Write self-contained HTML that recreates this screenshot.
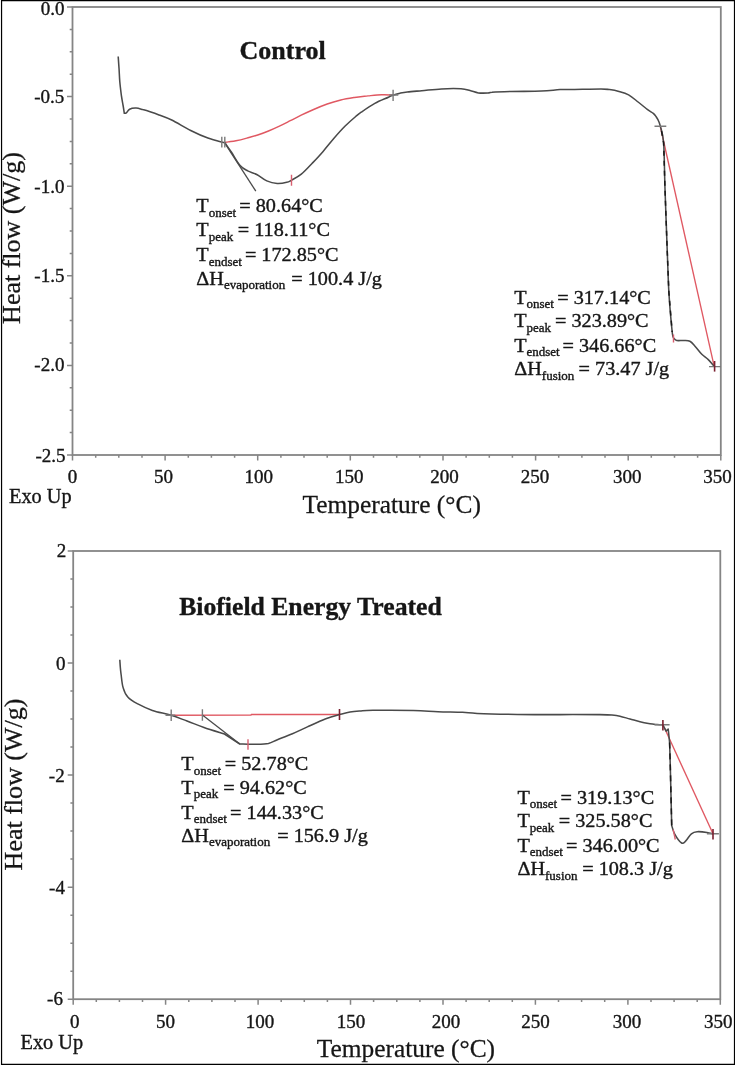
<!DOCTYPE html>
<html><head><meta charset="utf-8"><style>
html,body{margin:0;padding:0;background:#fff;}
body{width:735px;height:1066px;overflow:hidden;}
svg{display:block;will-change:transform;}
text{font-family:"Liberation Serif", "Times New Roman", serif;fill:#161616;stroke:#161616;stroke-width:0.36px;}
.tk{font-size:19px;}
.an{font-size:19.0px;}
.sb{font-size:12.2px;}
.lb{font-size:25.4px;stroke-width:0.28px;}
.yl{font-size:26px;stroke-width:0.28px;}
.ti{font-size:26px;font-weight:bold;}
.ti2{font-size:25.7px;font-weight:bold;}
.ex{font-size:20.3px;}
</style></head><body>
<svg width="735" height="1066" viewBox="0 0 735 1066">
<rect x="0" y="0" width="735" height="1066" fill="#fff"/>
<rect x="72.5" y="7" width="648.3" height="448" fill="none" stroke="#858585" stroke-width="1.8"/>
<path d="M67.0 7.0H72.5 M69.7 29.4H72.5 M69.7 51.8H72.5 M69.7 74.2H72.5 M67.0 96.6H72.5 M69.7 119.0H72.5 M69.7 141.4H72.5 M69.7 163.8H72.5 M67.0 186.2H72.5 M69.7 208.6H72.5 M69.7 231.0H72.5 M69.7 253.4H72.5 M67.0 275.8H72.5 M69.7 298.2H72.5 M69.7 320.6H72.5 M69.7 343.0H72.5 M67.0 365.4H72.5 M69.7 387.8H72.5 M69.7 410.2H72.5 M69.7 432.6H72.5 M67.0 455.0H72.5 M72.5 455V460.5 M95.7 455V457.8 M118.8 455V457.8 M142.0 455V457.8 M165.1 455V460.5 M188.3 455V457.8 M211.4 455V457.8 M234.6 455V457.8 M257.7 455V460.5 M280.9 455V457.8 M304.0 455V457.8 M327.2 455V457.8 M350.3 455V460.5 M373.5 455V457.8 M396.7 455V457.8 M419.8 455V457.8 M443.0 455V460.5 M466.1 455V457.8 M489.3 455V457.8 M512.4 455V457.8 M535.6 455V460.5 M558.7 455V457.8 M581.9 455V457.8 M605.0 455V457.8 M628.2 455V460.5 M651.3 455V457.8 M674.5 455V457.8 M697.6 455V457.8 M720.8 455V460.5" stroke="#858585" stroke-width="1.5" fill="none"/>
<text x="64.4" y="15.1" text-anchor="end" class="tk">0.0</text>
<text x="64.3" y="103.3" text-anchor="end" class="tk">-0.5</text>
<text x="64.4" y="193.4" text-anchor="end" class="tk">-1.0</text>
<text x="64.4" y="282.4" text-anchor="end" class="tk">-1.5</text>
<text x="64.4" y="371.2" text-anchor="end" class="tk">-2.0</text>
<text x="65.5" y="462.4" text-anchor="end" class="tk">-2.5</text>
<text x="72.5" y="482.6" text-anchor="middle" class="tk">0</text>
<text x="163.6" y="482.6" text-anchor="middle" class="tk">50</text>
<text x="258.7" y="482.6" text-anchor="middle" class="tk">100</text>
<text x="349.3" y="482.6" text-anchor="middle" class="tk">150</text>
<text x="444.5" y="482.6" text-anchor="middle" class="tk">200</text>
<text x="535.1" y="482.6" text-anchor="middle" class="tk">250</text>
<text x="627.2" y="482.6" text-anchor="middle" class="tk">300</text>
<text x="717.5" y="482.6" text-anchor="middle" class="tk">350</text>
<text x="9" y="503" class="ex">Exo Up</text>
<text x="302.6" y="513" class="lb">Temperature (°C)</text>
<text transform="translate(20 323.9) rotate(-90)" class="yl">Heat flow (W/g)</text>
<text x="239.6" y="59.3" class="ti">Control</text>
<path d="M224.9 142.4 C225.5 142.3 226.5 142.2 228.3 141.9 C230.1 141.6 232.8 141.4 235.9 140.8 C239.0 140.2 243.2 139.1 246.8 138.1 C250.4 137.1 254.1 136.2 257.7 135.0 C261.3 133.8 264.9 132.5 268.5 131.0 C272.1 129.5 275.8 127.8 279.4 126.1 C283.0 124.4 286.7 122.5 290.3 120.7 C293.9 118.9 297.3 117.1 301.2 115.2 C305.1 113.3 309.3 111.4 313.6 109.5 C317.9 107.6 322.7 105.6 327.2 104.0 C331.7 102.4 336.3 101.1 340.8 100.0 C345.3 98.9 349.9 98.2 354.4 97.5 C358.9 96.8 363.5 96.4 368.0 95.9 C372.5 95.5 377.5 95.0 381.6 94.8 C385.8 94.6 391.0 95.0 392.9 95.0" stroke="#e05862" stroke-width="1.45" fill="none"/>
<path d="M660.4 127 L714.2 366.3" stroke="#e05862" stroke-width="1.35" fill="none"/>
<path d="M118.2 56.5 C118.3 58.4 118.7 63.8 119.0 68.0 C119.3 72.2 119.4 77.2 119.8 81.8 C120.2 86.4 120.9 91.8 121.4 95.7 C122.0 99.7 122.6 102.6 123.1 105.5 C123.6 108.4 124.1 112.0 124.3 113.3 C124.6 113.2 125.4 113.6 126.3 112.9 C127.2 112.2 128.0 110.0 129.6 109.2 C131.2 108.4 133.9 108.0 136.1 108.1 C138.3 108.2 140.2 108.9 142.7 109.6 C145.1 110.2 148.1 111.1 150.8 112.0 C153.5 112.9 155.5 113.6 159.0 114.9 C162.5 116.2 166.4 117.4 171.7 120.0 C177.0 122.6 184.7 127.5 190.7 130.5 C196.7 133.5 202.2 136.0 207.9 138.1 C213.6 140.2 222.1 142.0 224.9 142.8 C226.0 144.4 229.0 148.5 231.5 152.3 C234.0 156.1 237.4 162.5 240.1 165.6 C242.8 168.7 244.8 169.4 247.7 170.9 C250.5 172.4 254.0 173.0 257.2 174.7 C260.4 176.4 263.5 179.4 266.8 180.9 C270.1 182.4 273.9 183.3 277.2 183.5 C280.5 183.7 284.4 182.9 286.8 182.3 C289.2 181.8 289.1 181.5 291.5 180.2 C293.9 178.8 297.9 177.0 301.3 174.2 C304.8 171.4 308.6 167.1 312.2 163.3 C315.8 159.5 319.5 155.6 323.1 151.4 C326.7 147.2 330.4 142.5 334.0 138.3 C337.6 134.1 341.3 129.9 344.9 126.3 C348.5 122.7 353.0 118.8 355.7 116.5 C358.4 114.2 358.0 114.4 361.2 112.2 C364.4 110.0 370.3 105.9 374.8 103.4 C379.3 100.9 385.4 98.6 388.4 97.2 C391.4 95.8 391.0 96.0 392.9 95.3 C394.8 94.6 397.6 93.8 400.0 93.2 C402.4 92.7 403.7 92.4 407.3 92.0 C410.9 91.6 416.1 91.2 421.8 90.7 C427.5 90.2 434.9 89.2 441.4 88.9 C447.9 88.6 456.2 88.5 461.0 88.8 C465.8 89.1 467.1 89.8 470.0 90.5 C472.9 91.2 475.4 92.5 478.4 92.9 C481.4 93.3 485.7 93.1 488.0 93.0 C490.3 92.9 488.2 92.5 492.0 92.3 C495.8 92.0 502.8 91.7 511.0 91.5 C519.2 91.3 533.3 91.4 541.5 91.1 C549.7 90.8 554.5 89.9 560.0 89.6 C565.5 89.3 567.7 89.5 574.5 89.4 C581.3 89.3 595.2 89.0 601.0 89.0 C606.8 89.0 606.5 89.2 609.5 89.6 C612.5 90.0 615.8 90.6 619.0 91.5 C622.2 92.4 625.4 93.2 628.6 94.9 C631.8 96.7 634.9 99.5 638.1 102.0 C641.3 104.5 645.1 107.7 647.6 109.6 C650.1 111.5 651.9 112.2 653.3 113.4 C654.7 114.6 655.0 115.1 656.0 116.5 C657.0 117.9 658.3 120.3 659.0 122.0 C659.7 123.7 660.2 125.7 660.4 126.4 C660.9 129.1 662.8 132.4 663.6 142.8 C664.4 153.2 664.4 170.9 665.0 188.8 C665.6 206.7 666.6 232.7 667.2 250.0 C667.9 267.3 668.1 278.9 668.9 292.6 C669.7 306.3 671.4 324.4 672.2 332.0 C673.0 339.6 673.3 336.9 673.5 337.9 C674.0 338.3 675.1 340.1 676.8 340.5 C678.4 340.9 681.2 340.4 683.4 340.5 C685.6 340.6 687.9 340.2 689.9 341.2 C691.9 342.2 693.2 344.2 695.2 346.4 C697.2 348.6 699.6 352.1 701.8 354.3 C704.0 356.5 706.2 357.6 708.3 359.6 C710.4 361.6 713.2 365.2 714.2 366.3" stroke="#4a4a4a" stroke-width="1.55" fill="none" stroke-linejoin="round"/>
<path d="M224.5 142.6 L255.8 191.1" stroke="#4a4a4a" stroke-width="1.3" fill="none"/>
<path d="M661.5 131 L663.6 142.8 L665 188.8 L667.2 250 L668.9 292.6 L672.2 332" stroke="#1a1a1a" stroke-width="1.5" stroke-dasharray="5 5" fill="none"/>
<path d="M221.8 136.7V147.6 M224.8 136.7V147.6 M389.3 95H398.3 M393.1 89.7V101 M654.5 126.2H666.3 M709 366.6H721" stroke="#7a7a7a" stroke-width="1.4" fill="none"/>
<path d="M291.5 174.8V185.7 M673.5 334.6V342.5" stroke="#d86070" stroke-width="1.4" fill="none"/>
<path d="M714.6 361V371.6" stroke="#7a2030" stroke-width="1.6" fill="none"/>
<g transform="translate(196.3 212.4) scale(1.065 1)"><text y="0" class="an"><tspan x="0">T</tspan><tspan dy="4.3" class="sb">onset</tspan><tspan x="40.38" dy="-4.3">= 80.64°C</tspan></text></g>
<g transform="translate(196.3 236.4) scale(1.065 1)"><text y="0" class="an"><tspan x="0">T</tspan><tspan dy="4.3" class="sb">peak</tspan><tspan x="38.97" dy="-4.3">= 118.11°C</tspan></text></g>
<g transform="translate(196.3 261.4) scale(1.065 1)"><text y="0" class="an"><tspan x="0">T</tspan><tspan dy="4.3" class="sb">endset</tspan><tspan x="45.63" dy="-4.3">= 172.85°C</tspan></text></g>
<g transform="translate(196.3 284.8) scale(1.065 1)"><text y="0" class="an"><tspan x="0">ΔH</tspan><tspan dy="4.3" class="sb">evaporation</tspan><tspan x="89.20" dy="-4.3">= 100.4 J/g</tspan></text></g>
<g transform="translate(514.2 303.7) scale(1.065 1)"><text y="0" class="an"><tspan x="0">T</tspan><tspan dy="4.3" class="sb">onset</tspan><tspan x="40.38" dy="-4.3">= 317.14°C</tspan></text></g>
<g transform="translate(514.2 327.3) scale(1.065 1)"><text y="0" class="an"><tspan x="0">T</tspan><tspan dy="4.3" class="sb">peak</tspan><tspan x="38.31" dy="-4.3">= 323.89°C</tspan></text></g>
<g transform="translate(514.2 351.8) scale(1.065 1)"><text y="0" class="an"><tspan x="0">T</tspan><tspan dy="4.3" class="sb">endset</tspan><tspan x="45.35" dy="-4.3">= 346.66°C</tspan></text></g>
<g transform="translate(514.2 375.4) scale(1.065 1)"><text y="0" class="an"><tspan x="0">ΔH</tspan><tspan dy="4.3" class="sb">fusion</tspan><tspan x="60.47" dy="-4.3">= 73.47 J/g</tspan></text></g>
<rect x="73.2" y="551" width="647.0999999999999" height="448.20000000000005" fill="none" stroke="#858585" stroke-width="1.8"/>
<path d="M67.7 551.0H73.2 M70.4 579.0H73.2 M70.4 607.0H73.2 M70.4 635.0H73.2 M67.7 663.0H73.2 M70.4 691.1H73.2 M70.4 719.1H73.2 M70.4 747.1H73.2 M67.7 775.1H73.2 M70.4 803.1H73.2 M70.4 831.1H73.2 M70.4 859.1H73.2 M67.7 887.2H73.2 M70.4 915.2H73.2 M70.4 943.2H73.2 M70.4 971.2H73.2 M67.7 999.2H73.2 M73.2 999.2V1004.7 M96.3 999.2V1002.0 M119.4 999.2V1002.0 M142.5 999.2V1002.0 M165.6 999.2V1004.7 M188.8 999.2V1002.0 M211.9 999.2V1002.0 M235.0 999.2V1002.0 M258.1 999.2V1004.7 M281.2 999.2V1002.0 M304.3 999.2V1002.0 M327.4 999.2V1002.0 M350.5 999.2V1004.7 M373.6 999.2V1002.0 M396.8 999.2V1002.0 M419.9 999.2V1002.0 M443.0 999.2V1004.7 M466.1 999.2V1002.0 M489.2 999.2V1002.0 M512.3 999.2V1002.0 M535.4 999.2V1004.7 M558.5 999.2V1002.0 M581.6 999.2V1002.0 M604.7 999.2V1002.0 M627.9 999.2V1004.7 M651.0 999.2V1002.0 M674.1 999.2V1002.0 M697.2 999.2V1002.0 M720.3 999.2V1004.7" stroke="#858585" stroke-width="1.5" fill="none"/>
<text x="66.2" y="556.8" text-anchor="end" class="tk">2</text>
<text x="65.5" y="670.3" text-anchor="end" class="tk">0</text>
<text x="64.7" y="782" text-anchor="end" class="tk">-2</text>
<text x="64.9" y="894.1" text-anchor="end" class="tk">-4</text>
<text x="62.9" y="1004.9" text-anchor="end" class="tk">-6</text>
<text x="74.7" y="1027.5" text-anchor="middle" class="tk">0</text>
<text x="165.6" y="1027.5" text-anchor="middle" class="tk">50</text>
<text x="260.1" y="1027.5" text-anchor="middle" class="tk">100</text>
<text x="351.0" y="1027.5" text-anchor="middle" class="tk">150</text>
<text x="446.0" y="1027.5" text-anchor="middle" class="tk">200</text>
<text x="535.4" y="1027.5" text-anchor="middle" class="tk">250</text>
<text x="626.9" y="1027.5" text-anchor="middle" class="tk">300</text>
<text x="718.3" y="1027.5" text-anchor="middle" class="tk">350</text>
<text x="20.6" y="1048.6" class="ex">Exo Up</text>
<text x="316.8" y="1057.1" class="lb">Temperature (°C)</text>
<text transform="translate(21.9 870.4) rotate(-90)" class="yl">Heat flow (W/g)</text>
<text x="179.2" y="614.7" class="ti2">Biofield Energy Treated</text>
<path d="M171.2 715.2 L251 715 L251.5 714.5 L339.3 714.4" stroke="#e05862" stroke-width="1.45" fill="none"/>
<path d="M664.5 728 L713 833.8" stroke="#e05862" stroke-width="1.35" fill="none"/>
<path d="M119.8 659.8 C119.9 661.0 120.1 664.5 120.3 667.0 C120.5 669.5 120.6 671.1 121.1 674.5 C121.6 677.9 121.9 683.8 123.1 687.6 C124.2 691.4 125.5 694.6 128.0 697.3 C130.4 700.0 133.7 701.7 137.8 703.9 C141.9 706.1 146.8 708.5 152.4 710.4 C158.0 712.3 165.4 713.5 171.2 715.3 C177.0 717.1 181.5 719.0 187.0 721.0 C192.5 723.0 197.8 725.3 204.0 727.5 C210.2 729.7 221.1 732.9 224.5 734.0 L239.8 744.0 C241.2 744.0 245.7 744.2 248.2 744.2 C250.7 744.2 251.6 744.3 255.0 744.2 C258.4 744.1 264.7 744.1 268.4 743.4 C272.1 742.6 273.4 741.3 277.4 739.7 C281.4 738.1 287.4 735.8 292.4 733.7 C297.4 731.6 302.4 729.1 307.4 726.9 C312.4 724.6 318.1 721.9 322.3 720.2 C326.5 718.5 329.9 717.5 332.8 716.5 C335.7 715.5 336.7 715.2 339.6 714.5 C342.5 713.8 346.6 712.7 350.0 712.1 C353.4 711.5 356.2 711.3 360.0 711.0 C363.8 710.7 364.0 710.4 372.9 710.3 C381.8 710.2 402.6 710.2 413.5 710.4 C424.4 710.6 429.8 711.4 438.0 711.7 C446.2 712.0 456.0 712.0 462.5 712.3 C469.0 712.6 468.1 713.0 477.2 713.4 C486.3 713.8 503.5 714.2 517.3 714.4 C531.1 714.6 546.2 714.6 560.0 714.6 C573.8 714.6 591.3 714.5 600.0 714.6 C608.7 714.7 608.7 714.7 612.0 715.0 C615.3 715.3 617.0 715.5 620.0 716.2 C623.0 716.9 626.7 718.1 630.0 719.0 C633.3 719.9 636.7 721.0 640.0 721.8 C643.3 722.6 647.2 723.3 650.0 723.8 C652.8 724.3 654.9 724.4 657.0 724.6 C659.1 724.8 661.9 724.8 662.9 724.8 L666.1 731.1 L668.2 729.0 L669.6 742.4 C669.7 746.4 669.9 752.5 670.3 766.3 C670.6 780.1 671.5 815.5 671.7 825.4 C672.2 826.8 673.0 830.9 674.6 833.8 C676.2 836.7 679.7 841.8 681.6 843.0 C683.5 844.2 684.2 842.4 685.8 840.9 C687.4 839.4 689.5 835.3 691.4 833.8 C693.3 832.3 694.5 831.9 697.1 831.7 C699.7 831.5 704.2 832.0 706.9 832.4 C709.5 832.8 712.0 833.6 713.0 833.8" stroke="#4a4a4a" stroke-width="1.55" fill="none" stroke-linejoin="round"/>
<path d="M202.4 715 L239.8 744" stroke="#4a4a4a" stroke-width="1.3" fill="none"/>
<path d="M669.6 742.4 L670.3 766.3 L671.7 825.4" stroke="#1a1a1a" stroke-width="1.5" stroke-dasharray="6 5" fill="none"/>
<path d="M171.2 709.6V721 M165.5 715.3H175.3 M202.4 709.3V720.7 M654.5 724.8H669.6 M706.9 833.8H718.9" stroke="#7a7a7a" stroke-width="1.4" fill="none"/>
<path d="M248 739.3V749.8 M673.2 829.6L675.3 839.5" stroke="#d86070" stroke-width="1.4" fill="none"/>
<path d="M662.9 719.9V730.4 M713 828.9V839.5 M339.5 709V720" stroke="#7a2030" stroke-width="1.6" fill="none"/>
<g transform="translate(181.3 770.3) scale(1.065 1)"><text y="0" class="an"><tspan x="0">T</tspan><tspan dy="4.3" class="sb">onset</tspan><tspan x="40.85" dy="-4.3">= 52.78°C</tspan></text></g>
<g transform="translate(181.3 793.9) scale(1.065 1)"><text y="0" class="an"><tspan x="0">T</tspan><tspan dy="4.3" class="sb">peak</tspan><tspan x="39.34" dy="-4.3">= 94.62°C</tspan></text></g>
<g transform="translate(181.3 818.8) scale(1.065 1)"><text y="0" class="an"><tspan x="0">T</tspan><tspan dy="4.3" class="sb">endset</tspan><tspan x="45.82" dy="-4.3">= 144.33°C</tspan></text></g>
<g transform="translate(181.3 842) scale(1.065 1)"><text y="0" class="an"><tspan x="0">ΔH</tspan><tspan dy="4.3" class="sb">evaporation</tspan><tspan x="90.05" dy="-4.3">= 156.9 J/g</tspan></text></g>
<g transform="translate(517.4 803.7) scale(1.065 1)"><text y="0" class="an"><tspan x="0">T</tspan><tspan dy="4.3" class="sb">onset</tspan><tspan x="40.47" dy="-4.3">= 319.13°C</tspan></text></g>
<g transform="translate(517.4 827.3) scale(1.065 1)"><text y="0" class="an"><tspan x="0">T</tspan><tspan dy="4.3" class="sb">peak</tspan><tspan x="38.87" dy="-4.3">= 325.58°C</tspan></text></g>
<g transform="translate(517.4 851.8) scale(1.065 1)"><text y="0" class="an"><tspan x="0">T</tspan><tspan dy="4.3" class="sb">endset</tspan><tspan x="45.63" dy="-4.3">= 346.00°C</tspan></text></g>
<g transform="translate(517.4 875.4) scale(1.065 1)"><text y="0" class="an"><tspan x="0">ΔH</tspan><tspan dy="4.3" class="sb">fusion</tspan><tspan x="60.85" dy="-4.3">= 108.3 J/g</tspan></text></g>
<path d="M1 0.6 H735 M734.5 0 V1065 M1.55 0 V1065 M1 1064.3 H735" stroke="#000" stroke-width="1.2" fill="none"/>
</svg></body></html>
